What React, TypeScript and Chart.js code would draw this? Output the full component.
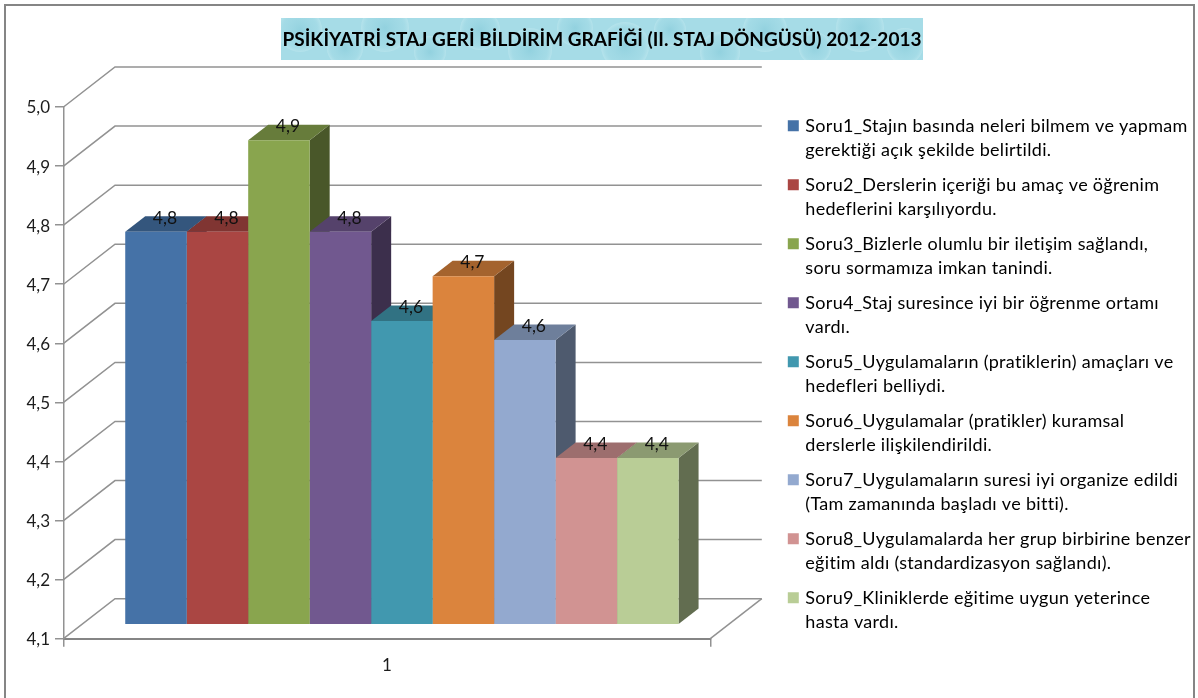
import React, { useEffect, useRef } from "react";
import { Chart, registerables } from "chart.js";

Chart.register(...registerables);

const categories = ["1"];
const seriesNames = [
  "Soru1_Stajın basında neleri bilmem ve yapmam gerektiği açık şekilde belirtildi.",
  "Soru2_Derslerin içeriği bu amaç ve öğrenim hedeflerini karşılıyordu.",
  "Soru3_Bizlerle olumlu bir iletişim sağlandı, soru sormamıza imkan tanindi.",
  "Soru4_Staj suresince iyi bir öğrenme ortamı vardı.",
  "Soru5_Uygulamaların (pratiklerin) amaçları ve hedefleri belliydi.",
  "Soru6_Uygulamalar (pratikler) kuramsal derslerle ilişkilendirildi.",
  "Soru7_Uygulamaların suresi iyi organize edildi (Tam zamanında başladı ve bitti).",
  "Soru8_Uygulamalarda her grup birbirine benzer eğitim aldı (standardizasyon sağlandı).",
  "Soru9_Kliniklerde eğitime uygun yeterince hasta vardı.",
];
const legendLines = [
  ["Soru1_Stajın basında neleri bilmem ve yapmam", "gerektiği açık şekilde belirtildi."],
  ["Soru2_Derslerin içeriği bu amaç ve öğrenim", "hedeflerini karşılıyordu."],
  ["Soru3_Bizlerle olumlu bir iletişim sağlandı,", "soru sormamıza imkan tanindi."],
  ["Soru4_Staj suresince iyi bir öğrenme ortamı", "vardı."],
  ["Soru5_Uygulamaların (pratiklerin) amaçları ve", "hedefleri belliydi."],
  ["Soru6_Uygulamalar (pratikler) kuramsal", "derslerle ilişkilendirildi."],
  ["Soru7_Uygulamaların suresi iyi organize edildi", "(Tam zamanında başladı ve bitti)."],
  ["Soru8_Uygulamalarda her grup birbirine benzer", "eğitim aldı (standardizasyon sağlandı)."],
  ["Soru9_Kliniklerde eğitime uygun yeterince", "hasta vardı."],
];
const seriesValues = [4.765, 4.765, 4.92, 4.765, 4.614, 4.69, 4.582, 4.382, 4.382];
const seriesColors = ["#4572A7", "#AA4643", "#89A54E", "#71588F", "#4198AF", "#DB843D", "#93A9CF", "#D19392", "#B9CD96"];
const titleText = "PSİKİYATRİ STAJ GERİ BİLDİRİM GRAFİĞİ (II. STAJ DÖNGÜSÜ) 2012-2013";
const AXIS_MIN = 4.1;
const AXIS_MAX = 5.0;
const FONT = "Lato, 'Open Sans', sans-serif";
const GRID = "#929292";
const TEXT = "#1c1c1c";

// 3D projection constants
const WALL_DX = 51.5, WALL_DY = -40;
const FLOOR_DX = 15, FLOOR_DY = -14;
const BAR_DX = 20, BAR_DY = -15.5;

const shade = (hex: string, f: number) => {
  const n = parseInt(hex.slice(1), 16);
  const c = (s: number) => Math.round(((n >> s) & 255) * f);
  return `rgb(${c(16)},${c(8)},${c(0)})`;
};

const poly = (ctx: any, pts: number[][], fill: string) => {
  ctx.beginPath();
  pts.forEach((p, i) => (i ? ctx.lineTo(p[0], p[1]) : ctx.moveTo(p[0], p[1])));
  ctx.closePath();
  ctx.fillStyle = fill;
  ctx.fill();
};

const drops = [
  [300, 30, 22], [345, 48, 18], [385, 28, 24], [430, 52, 16], [480, 30, 20], [530, 50, 22],
  [575, 28, 18], [625, 46, 24], [670, 30, 16], [720, 52, 20], [765, 30, 22], [815, 48, 16], [860, 28, 24], [905, 46, 18],
];

const scenePlugin = {
  id: "scene3d",
  afterLayout(chart: any) {
    const t = chart.titleBlock;
    t.left = 6; t.right = 1198;
    const l = chart.legend;
    l.left = 779.3; l.top = 105.8; l.right = 1198; l.bottom = 698;
    if (!l.__spaced) {
      l.__spaced = true;
      const draw = l.draw.bind(l);
      l.draw = () => {
        chart.ctx.letterSpacing = "0.3px";
        draw();
        chart.ctx.letterSpacing = "0px";
      };
    }
  },
  beforeDraw(chart: any) {
    const ctx = chart.ctx;
    ctx.save();
    ctx.fillStyle = "#ffffff";
    ctx.fillRect(0, 0, chart.width, chart.height);
    // outer frame
    ctx.strokeStyle = "#858585";
    ctx.lineWidth = 2;
    ctx.beginPath();
    ctx.moveTo(5, 698); ctx.lineTo(5, 5); ctx.lineTo(1194, 5); ctx.lineTo(1194, 698);
    ctx.stroke();
    // title background
    ctx.beginPath();
    ctx.rect(281, 18, 642, 42);
    ctx.clip();
    ctx.fillStyle = "#A6DCE7";
    ctx.fillRect(281, 18, 642, 42);
    drops.forEach(([x, y, r]) => {
      const g = ctx.createRadialGradient(x, y, 1, x, y, r);
      g.addColorStop(0, "rgba(125,198,214,0.45)");
      g.addColorStop(0.75, "rgba(150,212,225,0.2)");
      g.addColorStop(1, "rgba(205,238,243,0.4)");
      ctx.fillStyle = g;
      ctx.beginPath();
      ctx.arc(x, y, r, 0, Math.PI * 2);
      ctx.fill();
    });
    ctx.restore();
  },
  beforeDatasetsDraw(chart: any) {
    const ctx = chart.ctx;
    const y = chart.scales.y;
    const { left, right } = chart.chartArea;
    ctx.save();
    // side wall and back wall lines
    ctx.strokeStyle = GRID;
    ctx.lineWidth = 1.5;
    y.ticks.forEach((t: any) => {
      const py = y.getPixelForValue(t.value);
      ctx.beginPath();
      ctx.moveTo(left, py);
      ctx.lineTo(left + WALL_DX, py + WALL_DY);
      ctx.lineTo(right + WALL_DX, py + WALL_DY);
      ctx.stroke();
    });
    const py0 = y.getPixelForValue(y.min);
    ctx.beginPath();
    ctx.moveTo(right + WALL_DX, py0 + WALL_DY);
    ctx.lineTo(right, py0);
    ctx.stroke();
    // top and side faces of the bars
    ctx.translate(FLOOR_DX, FLOOR_DY);
    chart.data.datasets.forEach((ds: any, i: number) => {
      const el = chart.getDatasetMeta(i).data[0];
      const x0 = el.x - el.width / 2, x1 = el.x + el.width / 2;
      poly(ctx, [[x1, el.y], [x1 + BAR_DX, el.y + BAR_DY], [x1 + BAR_DX, el.base + BAR_DY], [x1, el.base]], shade(seriesColors[i], 0.53));
      poly(ctx, [[x0, el.y], [x1, el.y], [x1 + BAR_DX, el.y + BAR_DY], [x0 + BAR_DX, el.y + BAR_DY]], shade(seriesColors[i], 0.75));
    });
    ctx.restore();
    // the front faces, drawn by the library, sit on the raised floor
    ctx.save();
    ctx.translate(FLOOR_DX, FLOOR_DY);
  },
  afterDatasetsDraw(chart: any) {
    const ctx = chart.ctx;
    ctx.restore();
    ctx.save();
    ctx.font = `17.5px ${FONT}`;
    ctx.fillStyle = "#111111";
    ctx.textAlign = "center";
    ctx.textBaseline = "middle";
    chart.data.datasets.forEach((ds: any, i: number) => {
      const el = chart.getDatasetMeta(i).data[0];
      const label = ds.data[0].toFixed(1).replace(".", ",");
      ctx.fillText(label, el.x + FLOOR_DX + BAR_DX / 2 - 1, el.y + FLOOR_DY - 13.5);
    });
    ctx.restore();
  },
};

export default function App() {
  const ref = useRef<HTMLCanvasElement>(null);
  useEffect(() => {
    const chart = new Chart(ref.current as HTMLCanvasElement, {
      type: "bar",
      plugins: [scenePlugin],
      data: {
        labels: categories,
        datasets: seriesNames.map((name, i) => ({
          label: name,
          data: [seriesValues[i]],
          base: AXIS_MIN,
          backgroundColor: seriesColors[i],
          borderWidth: 0,
          clip: false,
        })),
      },
      options: {
        animation: false,
        responsive: false,
        devicePixelRatio: 1,
        font: { family: FONT },
        layout: { padding: { left: 0, top: 0, right: 487.7, bottom: 0 } },
        datasets: { bar: { barPercentage: 1, categoryPercentage: 0.8555 } },
        scales: {
          x: {
            afterFit: (s: any) => { s.height = 59.3; },
            border: { display: true, color: "#858585", width: 2 },
            grid: { display: true, offset: true, drawOnChartArea: false, drawTicks: true, tickLength: 8, color: GRID, lineWidth: 1.5 },
            ticks: { color: TEXT, font: { family: FONT, size: 17 }, padding: 9 },
          },
          y: {
            min: AXIS_MIN,
            max: AXIS_MAX,
            afterFit: (s: any) => { s.width = 63.5; },
            border: { display: true, color: GRID, width: 1.5 },
            grid: { display: true, drawOnChartArea: false, drawTicks: true, tickLength: 8.5, color: GRID, lineWidth: 1.5 },
            ticks: {
              stepSize: 0.1,
              color: TEXT,
              padding: 5,
              labelOffset: 1,
              font: { family: FONT, size: 17 },
              callback: (v: any) => Number(v).toFixed(1).replace(".", ","),
            },
          },
        },
        plugins: {
          tooltip: { enabled: false },
          title: {
            display: true,
            text: titleText,
            color: "#000000",
            padding: { top: 28.5, bottom: 55.5 },
            font: { family: FONT, size: 19, weight: "bold", lineHeight: "23px" },
          },
          legend: {
            display: true,
            position: "chartArea",
            align: "start",
            labels: {
              boxWidth: 6,
              boxHeight: 6,
              padding: 11,
              color: TEXT,
              textAlign: "left",
              font: { family: FONT, size: 18, lineHeight: "24px" },
              generateLabels: () =>
                legendLines.map((text, i) => ({
                  text,
                  fillStyle: seriesColors[i],
                  strokeStyle: seriesColors[i],
                  lineWidth: 5,
                  datasetIndex: i,
                  hidden: false,
                })),
            },
          },
        },
      } as any,
    });
    return () => chart.destroy();
  }, []);
  return (
    <canvas
      ref={ref}
      width={1198}
      height={698}
      style={{ display: "block", position: "absolute", left: 0, top: 0 }}
    />
  );
}
